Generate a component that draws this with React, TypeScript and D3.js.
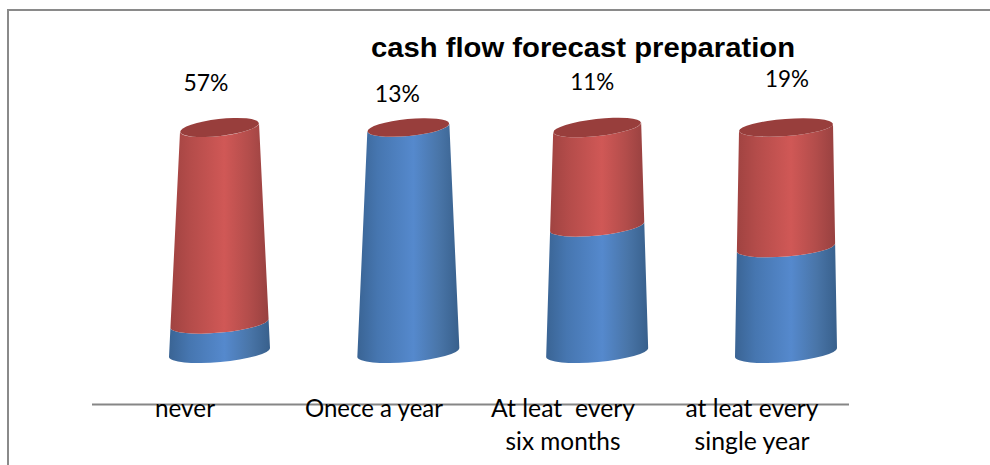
import React from "react";
import * as d3 from "d3";

// Chart content
const title = "cash flow forecast preparation";
const categories = ["never", "Onece a year", "At leat every six months", "at leat every single year"];
const categoryLines = [["never"], ["Onece a year"], ["At leat  every", "six months"], ["at leat every", "single year"]];
const percentLabels = ["57%", "13%", "11%", "19%"];
const blueShare = [13, 100, 56, 46.7];
const redShare = [87, 0, 44, 53.3];

// Drawing geometry
const WIDTH = 990;
const HEIGHT = 465;
const bottomRadius = [50.5, 51, 51, 51];
const topRadius = [39.5, 41, 44, 47];
const topTilt = [4.5, 4, 5, 3.5];
const labelBaselines = [91, 102, 90, 87];
const labelWidths = [45, 45, 44, 44];
const labelOffsets = [-13.5, -11, -5, 1];
const categoryWidths = [[60], [138], [144, 115], [133, 115]];

const FONT = "Lato, Carlito, 'Open Sans', sans-serif";
const BOTTOM_TILT = 4.5;

const yScale = d3.scaleLinear().domain([0, 100]).range([352.5, 127.5]);
const xScale = d3.scalePoint<string>().domain(categories).range([219.5, 786]);
const labelX = d3.scalePoint<string>().domain(categories).range([185, 752]);

const stackRows = categories.map((c, i) => ({ c, blue: blueShare[i], red: redShare[i] }));
const stacked = d3.stack<{ c: string; blue: number; red: number }>().keys(["blue", "red"])(stackRows);

// Ellipse radii and tilt change with the width of the cylinder at a given stack height.
function ring(i: number, v: number) {
  const t = v / 100;
  const rx = d3.interpolateNumber(bottomRadius[i], topRadius[i])(t);
  const ry = d3.interpolateNumber(9.5, 8.5)(t);
  const cx = xScale(categories[i])!;
  const cy = yScale(v);
  const dy = d3.interpolateNumber(BOTTOM_TILT, topTilt[i])(t);
  const angle = (Math.atan2(-dy, rx) * 180) / Math.PI;
  return { cx, cy, rx, ry, dy, angle };
}

function bodyPath(i: number, v0: number, v1: number) {
  const a = ring(i, v0);
  const b = ring(i, v1);
  const p = d3.path();
  p.moveTo(a.cx - a.rx, a.cy + a.dy);
  const lower = `A${a.rx} ${a.ry} ${a.angle} 0 0 ${a.cx + a.rx} ${a.cy - a.dy}`;
  const upper = `A${b.rx} ${b.ry} ${b.angle} 0 1 ${b.cx - b.rx} ${b.cy + b.dy}`;
  return `${p.toString()}${lower}L${b.cx + b.rx} ${b.cy - b.dy}${upper}Z`;
}

export default function App() {
  return (
    <svg
      width={WIDTH}
      height={HEIGHT}
      viewBox={`0 0 ${WIDTH} ${HEIGHT}`}
      style={{ position: "fixed", left: 0, top: 0, background: "#fff" }}
    >
      <defs>
        <linearGradient id="blueBody" x1="0" x2="1" y1="0" y2="0">
          <stop offset="0" stopColor="#3a6494" />
          <stop offset="0.2" stopColor="#4676b0" />
          <stop offset="0.55" stopColor="#5589cd" />
          <stop offset="0.8" stopColor="#4975a8" />
          <stop offset="1" stopColor="#38608c" />
        </linearGradient>
        <linearGradient id="redBody" x1="0" x2="1" y1="0" y2="0">
          <stop offset="0" stopColor="#a04341" />
          <stop offset="0.2" stopColor="#b44c4a" />
          <stop offset="0.55" stopColor="#d05856" />
          <stop offset="0.8" stopColor="#b34d4b" />
          <stop offset="1" stopColor="#984140" />
        </linearGradient>
      </defs>

      {/* frame */}
      <path d="M8 465V10H990" fill="none" stroke="#8a8a8a" strokeWidth={2} />

      {/* cylinders */}
      {categories.map((c, i) => {
        const top = ring(i, 100);
        return (
          <g key={c}>
            {stacked.map((s) => {
              const [v0, v1] = s[i];
              if (v1 - v0 <= 0) return null;
              return (
                <path
                  key={s.key}
                  d={bodyPath(i, v0, v1)}
                  fill={s.key === "blue" ? "url(#blueBody)" : "url(#redBody)"}
                />
              );
            })}
            <ellipse
              cx={top.cx}
              cy={top.cy}
              rx={top.rx}
              ry={top.ry}
              fill="#983e3c"
              transform={`rotate(${top.angle} ${top.cx} ${top.cy})`}
            />
          </g>
        );
      })}

      {/* category axis */}
      <line x1={92} x2={849} y1={404.5} y2={404.5} stroke="#868686" strokeWidth={2} />

      <text
        x={583}
        y={57}
        textAnchor="middle"
        fontFamily="'Liberation Sans', Arial, sans-serif"
        fontWeight="bold"
        fontSize={28}
        textLength={424}
        lengthAdjust="spacingAndGlyphs"
        fill="#000"
      >
        {title}
      </text>

      {percentLabels.map((t, i) => (
        <text
          key={t}
          x={xScale(categories[i])! + labelOffsets[i]}
          y={labelBaselines[i]}
          textAnchor="middle"
          fontFamily={FONT}
          fontSize={23}
          textLength={labelWidths[i]}
          lengthAdjust="spacingAndGlyphs"
          fill="#000"
        >
          {t}
        </text>
      ))}

      {categoryLines.map((lines, i) =>
        lines.map((line, j) => (
          <text
            key={line}
            x={labelX(categories[i])}
            y={417 + j * 33}
            textAnchor="middle"
            fontFamily={FONT}
            fontSize={25}
            textLength={categoryWidths[i][j]}
            lengthAdjust="spacingAndGlyphs"
            xmlSpace="preserve"
            fill="#000"
          >
            {line}
          </text>
        ))
      )}
    </svg>
  );
}
